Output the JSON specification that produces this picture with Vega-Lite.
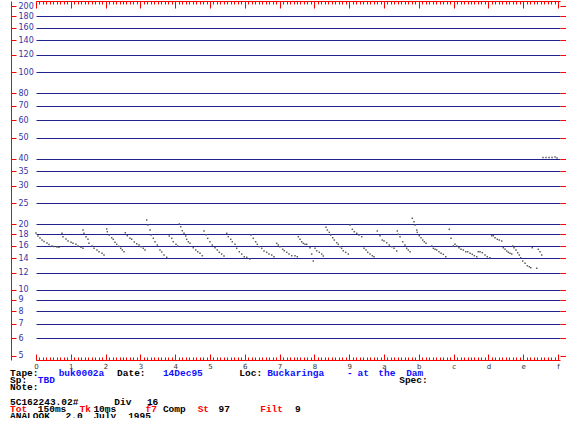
{
"$schema": "https://vega.github.io/schema/vega-lite/v6.json",
"width": 524, "height": 359,
"autosize": {"type": "none"},
"padding": {"left": 36, "top": 1, "right": 6, "bottom": 58},
"background": "white",
"config": {"view": {"stroke": null}},
"datasets": {
"calls": [
{"t":0,"f":18.26},{"t":0.057,"f":17.69},{"t":0.115,"f":17.32},{"t":0.172,"f":16.95},{"t":0.23,"f":16.69},{"t":0.316,"f":16.43},{"t":0.374,"f":16.17},{"t":0.46,"f":15.91},{"t":0.517,"f":15.83},{"t":0.603,"f":15.75},{"t":0.661,"f":15.7},
{"t":0.747,"f":18.2},{"t":0.776,"f":17.56},{"t":0.862,"f":17.13},{"t":0.92,"f":16.78},{"t":1.006,"f":16.55},{"t":1.063,"f":16.37},{"t":1.149,"f":16.2},{"t":1.207,"f":15.91},{"t":1.293,"f":15.7},{"t":1.351,"f":15.53},
{"t":1.351,"f":18.84},{"t":1.379,"f":18.2},{"t":1.437,"f":17.56},{"t":1.494,"f":17.08},{"t":1.523,"f":16.37},{"t":1.609,"f":15.91},{"t":1.667,"f":15.53},{"t":1.753,"f":15.26},{"t":1.81,"f":14.98},{"t":1.897,"f":14.73},{"t":1.954,"f":14.47},
{"t":2.032,"f":19.04},{"t":2.049,"f":18.51},{"t":2.106,"f":17.87},{"t":2.175,"f":17.37},{"t":2.221,"f":17.08},{"t":2.27,"f":16.55},{"t":2.319,"f":16.2},{"t":2.377,"f":15.86},{"t":2.434,"f":15.53},{"t":2.48,"f":15.26},{"t":2.529,"f":14.98},
{"t":2.566,"f":18.31},{"t":2.624,"f":17.74},{"t":2.701,"f":17.26},{"t":2.75,"f":17.08},{"t":2.825,"f":16.6},{"t":2.894,"f":16.3},{"t":2.96,"f":16.08},{"t":3.017,"f":15.8},{"t":3.083,"f":15.53},{"t":3.132,"f":15.26},
{"t":3.181,"f":20.94},{"t":3.218,"f":19.87},{"t":3.276,"f":18.84},{"t":3.305,"f":17.87},{"t":3.371,"f":17.26},{"t":3.42,"f":16.65},{"t":3.486,"f":16.08},{"t":3.563,"f":15.26},{"t":3.612,"f":14.94},{"t":3.678,"f":14.47},{"t":3.756,"f":14.12},
{"t":3.83,"f":17.69},{"t":3.899,"f":17.26},{"t":3.945,"f":16.65},{"t":4.023,"f":16.2},{"t":4.072,"f":15.91},
{"t":4.118,"f":20.08},{"t":4.158,"f":19.51},{"t":4.204,"f":18.71},{"t":4.253,"f":18.2},{"t":4.302,"f":17.69},{"t":4.33,"f":17.08},{"t":4.376,"f":16.65},{"t":4.425,"f":16.37},{"t":4.52,"f":15.63},{"t":4.589,"f":15.26},{"t":4.647,"f":14.98},{"t":4.713,"f":14.73},{"t":4.779,"f":14.36},
{"t":4.828,"f":18.65},{"t":4.885,"f":17.93},{"t":4.934,"f":17.26},{"t":5.0,"f":16.65},{"t":5.066,"f":16.08},{"t":5.144,"f":15.63},{"t":5.21,"f":15.26},{"t":5.267,"f":14.89},{"t":5.336,"f":14.62},{"t":5.402,"f":14.32},
{"t":5.48,"f":18.2},{"t":5.526,"f":17.56},{"t":5.595,"f":17.08},{"t":5.641,"f":16.65},{"t":5.718,"f":16.2},{"t":5.767,"f":15.53},{"t":5.842,"f":14.98},{"t":5.911,"f":14.62},{"t":5.986,"f":14.21},{"t":6.055,"f":14.12},{"t":6.149,"f":13.87},
{"t":6.178,"f":17.87},{"t":6.244,"f":17.26},{"t":6.313,"f":16.65},{"t":6.359,"f":16.2},{"t":6.417,"f":15.8},{"t":6.486,"f":15.53},{"t":6.552,"f":15.09},{"t":6.629,"f":14.89},{"t":6.695,"f":14.62},{"t":6.773,"f":14.47},{"t":6.839,"f":14.21},
{"t":6.917,"f":16.37},{"t":6.963,"f":16.08},{"t":7.011,"f":15.8},{"t":7.089,"f":15.37},{"t":7.135,"f":15.14},{"t":7.204,"f":14.89},{"t":7.27,"f":14.62},{"t":7.348,"f":14.36},{"t":7.443,"f":14.36},{"t":7.509,"f":14.21},
{"t":7.537,"f":17.56},{"t":7.586,"f":17.08},{"t":7.635,"f":16.65},{"t":7.681,"f":16.37},{"t":7.73,"f":16.2},{"t":7.779,"f":16.2},{"t":7.874,"f":15.63},{"t":7.922,"f":14.62},{"t":7.968,"f":13.58},
{"t":8.017,"f":15.53},{"t":8.066,"f":15.14},{"t":8.141,"f":14.89},{"t":8.21,"f":14.62},{"t":8.256,"f":14.32},
{"t":8.333,"f":19.39},{"t":8.371,"f":18.84},{"t":8.428,"f":18.39},{"t":8.468,"f":17.87},{"t":8.526,"f":17.37},{"t":8.572,"f":16.95},{"t":8.641,"f":16.48},{"t":8.687,"f":16.2},{"t":8.736,"f":15.8},{"t":8.784,"f":15.53},{"t":8.83,"f":15.14},{"t":8.899,"f":14.89},{"t":8.974,"f":14.62},
{"t":9.023,"f":19.87},{"t":9.089,"f":18.98},{"t":9.147,"f":18.51},{"t":9.216,"f":18.2},{"t":9.282,"f":17.87},{"t":9.359,"f":17.56},
{"t":9.425,"f":15.53},{"t":9.483,"f":15.26},{"t":9.532,"f":14.89},{"t":9.598,"f":14.62},{"t":9.664,"f":14.36},{"t":9.713,"f":14.21},
{"t":9.807,"f":18.65},{"t":9.885,"f":17.74},{"t":9.951,"f":16.95},{"t":10.0,"f":16.78},{"t":10.078,"f":16.48},{"t":10.152,"f":16.08},{"t":10.221,"f":15.8},{"t":10.287,"f":15.53},{"t":10.365,"f":15.09},
{"t":10.382,"f":18.65},{"t":10.411,"f":18.01},{"t":10.46,"f":17.56},{"t":10.537,"f":16.65},{"t":10.603,"f":16.08},{"t":10.652,"f":15.53},{"t":10.698,"f":15.26},{"t":10.747,"f":14.98},
{"t":10.813,"f":21.32},{"t":10.862,"f":20.57},{"t":10.891,"f":19.87},{"t":10.94,"f":18.84},{"t":10.957,"f":18.39},{"t":11.014,"f":17.74},{"t":11.063,"f":17.37},{"t":11.112,"f":16.95},{"t":11.158,"f":16.65},{"t":11.207,"f":16.37},{"t":11.371,"f":15.91},{"t":11.417,"f":15.53},{"t":11.466,"f":15.37},{"t":11.514,"f":15.26},{"t":11.58,"f":14.98},{"t":11.638,"f":14.73},{"t":11.704,"f":14.58},{"t":11.773,"f":14.21},
{"t":11.876,"f":18.98},{"t":11.925,"f":17.26},{"t":11.991,"f":15.91},{"t":12.04,"f":16.2},{"t":12.089,"f":15.91},{"t":12.155,"f":15.63},{"t":12.213,"f":15.37},{"t":12.279,"f":15.26},{"t":12.348,"f":14.98},{"t":12.405,"f":14.98},{"t":12.471,"f":14.73},{"t":12.537,"f":14.58},{"t":12.595,"f":14.36},{"t":12.664,"f":14.21},{"t":12.71,"f":14.98},{"t":12.759,"f":14.98},{"t":12.825,"f":14.83},{"t":12.902,"f":14.47},{"t":12.968,"f":14.21},{"t":13.046,"f":14.06},
{"t":13.095,"f":17.74},{"t":13.141,"f":17.74},{"t":13.19,"f":17.37},{"t":13.256,"f":17.08},{"t":13.313,"f":16.95},{"t":13.382,"f":16.78},
{"t":13.428,"f":15.63},{"t":13.477,"f":15.37},{"t":13.526,"f":15.09},{"t":13.572,"f":14.89},{"t":13.621,"f":14.73},{"t":13.67,"f":14.62},
{"t":13.698,"f":15.91},{"t":13.736,"f":15.63},{"t":13.793,"f":15.26},{"t":13.842,"f":14.83},{"t":13.888,"f":14.47},{"t":13.928,"f":14.06},{"t":13.986,"f":13.58},{"t":14.052,"f":13.26},{"t":14.118,"f":12.92},{"t":14.175,"f":12.79},{"t":14.216,"f":12.65},{"t":14.388,"f":12.58},
{"t":14.261,"f":15.63},{"t":14.434,"f":15.37},{"t":14.483,"f":14.98},{"t":14.532,"f":14.47},
{"t":14.569,"f":40.53},{"t":14.655,"f":40.53},{"t":14.741,"f":40.53},{"t":14.828,"f":40.53},{"t":14.914,"f":40.74},{"t":14.971,"f":40.31}
],
"info": [
{"line":1,"col":0,"kind":"label","text":"Tape:"},
{"line":1,"col":7,"kind":"value","text":"buk0002a"},
{"line":1,"col":15.4,"kind":"label","text":"Date:"},
{"line":1,"col":22,"kind":"value","text":"14Dec95"},
{"line":1,"col":33,"kind":"label","text":"Loc:"},
{"line":1,"col":37,"kind":"value","text":"Buckaringa"},
{"line":1,"col":48.5,"kind":"value","text":"-"},
{"line":1,"col":50,"kind":"value","text":"at"},
{"line":1,"col":53,"kind":"value","text":"the"},
{"line":1,"col":57,"kind":"value","text":"Dam"},
{"line":2,"col":0,"kind":"label","text":"Sp:"},
{"line":2,"col":4,"kind":"value","text":"TBD"},
{"line":2,"col":56,"kind":"label","text":"Spec:"},
{"line":3,"col":0,"kind":"label","text":"Note:"},
{"line":5,"col":0,"kind":"label","text":"5C162243.02#"},
{"line":5,"col":15,"kind":"label","text":"Div"},
{"line":5,"col":19.7,"kind":"label","text":"16"},
{"line":6,"col":0,"kind":"flag","text":"Tot"},
{"line":6,"col":4,"kind":"label","text":"150ms"},
{"line":6,"col":10,"kind":"flag","text":"Tk"},
{"line":6,"col":12,"kind":"label","text":"10ms"},
{"line":6,"col":19.5,"kind":"flag","text":"f7"},
{"line":6,"col":22,"kind":"label","text":"Comp"},
{"line":6,"col":27,"kind":"flag","text":"St"},
{"line":6,"col":30,"kind":"label","text":"97"},
{"line":6,"col":36,"kind":"flag","text":"Filt"},
{"line":6,"col":41,"kind":"label","text":"9"},
{"line":7,"col":0,"kind":"label","text":"ANALOOK"},
{"line":7,"col":8,"kind":"label","text":"2.0"},
{"line":7,"col":12,"kind":"label","text":"July"},
{"line":7,"col":17,"kind":"label","text":"1995"}
]
},
"resolve": {"scale": {"x": "independent", "y": "independent"}, "axis": {"x": "independent", "y": "independent"}},
"layer": [
{
"data": {"name": "calls"},
"transform": [{"filter": "datum.t < 3"}],
"mark": {"type": "square", "size": 2.2, "color": "#5a5a5a", "opacity": 1},
"encoding": {
"x": {"field": "t", "type": "quantitative", "scale": {"domain": [0, 15.057], "nice": false, "zero": false},
 "axis": {"orient": "bottom", "title": null, "labels": false, "grid": false, "domain": true, "domainColor": "#ff0000", "domainWidth": 1, "ticks": true, "tickColor": "#ff0000", "tickWidth": 1, "tickSize": -3,
 "values": [0,0.1,0.2,0.3,0.4,0.5,0.6,0.7,0.8,0.9,1,1.1,1.2,1.3,1.4,1.5,1.6,1.7,1.8,1.9,2,2.1,2.2,2.3,2.4,2.5,2.6,2.7,2.8,2.9,3,3.1,3.2,3.3,3.4,3.5,3.6,3.7,3.8,3.9,4,4.1,4.2,4.3,4.4,4.5,4.6,4.7,4.8,4.9,5,5.1,5.2,5.3,5.4,5.5,5.6,5.7,5.8,5.9,6,6.1,6.2,6.3,6.4,6.5,6.6,6.7,6.8,6.9,7,7.1,7.2,7.3,7.4,7.5,7.6,7.7,7.8,7.9,8,8.1,8.2,8.3,8.4,8.5,8.6,8.7,8.8,8.9,9,9.1,9.2,9.3,9.4,9.5,9.6,9.7,9.8,9.9,10,10.1,10.2,10.3,10.4,10.5,10.6,10.7,10.8,10.9,11,11.1,11.2,11.3,11.4,11.5,11.6,11.7,11.8,11.9,12,12.1,12.2,12.3,12.4,12.5,12.6,12.7,12.8,12.9,13,13.1,13.2,13.3,13.4,13.5,13.6,13.7,13.8,13.9,14,14.1,14.2,14.3,14.4,14.5,14.6,14.7,14.8,14.9,15]}},
"y": {"field": "f", "type": "quantitative", "scale": {"type": "log", "domain": [4.774, 211.7], "nice": false},
 "axis": {"orient": "right", "offset": -549, "title": null, "values": [5,6,7,8,9,10,12,14,16,18,20,25,30,35,40,50,60,70,80,100,120,140,160,180,200], "format": "d",
 "domain": true, "domainColor": "#ff0000", "domainWidth": 1, "ticks": true, "tickColor": "#ff0000", "tickSize": 5, "tickWidth": 1,
 "labels": true, "labelColor": "#3535a5", "labelFont": "DejaVu Sans", "labelFontSize": 8, "labelAlign": "left", "labelBaseline": "middle", "labelPadding": 2, "labelOverlap": false, "labelFlush": false, "labelBound": false, "grid": false}}
}
},
{
"data": {"name": "calls"},
"transform": [{"filter": "datum.t >= 3 && datum.t < 6"}],
"mark": {"type": "square", "size": 2.2, "color": "#5a5a5a", "opacity": 1},
"encoding": {
"x": {"field": "t", "type": "quantitative", "scale": {"domain": [0, 15.057], "nice": false, "zero": false},
 "axis": {"orient": "bottom", "title": null, "labels": false, "grid": false, "domain": false, "ticks": true, "tickColor": "#ff0000", "tickWidth": 1, "tickSize": -6, "values": [0,1,2,3,4,5,6,7,8,9,10,11,12,13,14,15]}},
"y": {"field": "f", "type": "quantitative", "scale": {"type": "log", "domain": [4.774, 211.7], "nice": false},
 "axis": {"orient": "right", "title": null, "values": [5,6,7,8,9,10,12,14,16,18,20,25,30,35,40,50,60,70,80,100,120,140,160,180,200], "domain": false, "ticks": true, "tickColor": "#ff0000", "tickSize": 6, "tickWidth": 1, "labels": false, "grid": false}}
}
},
{
"data": {"name": "calls"},
"transform": [{"filter": "datum.t >= 6 && datum.t < 9"}],
"mark": {"type": "square", "size": 2.2, "color": "#5a5a5a", "opacity": 1},
"encoding": {
"x": {"field": "t", "type": "quantitative", "scale": {"domain": [0, 15.057], "nice": false, "zero": false},
 "axis": {"orient": "bottom", "title": null, "ticks": false, "domain": false, "grid": false, "values": [0,1,2,3,4,5,6,7,8,9,10,11,12,13,14,15],
 "labelExpr": "substring('0123456789abcdef', datum.value, datum.value + 1)", "labelFont": "DejaVu Sans", "labelFontSize": 7, "labelColor": "#333333", "labelPadding": 2, "labelFlush": false, "labelOverlap": false, "labelBound": false}},
"y": {"field": "f", "type": "quantitative", "scale": {"type": "log", "domain": [4.774, 211.7], "nice": false},
 "axis": {"orient": "left", "title": null, "values": [6,7,8,9,10,12,14,16,18,20,25,30,35,40,50,60,70,80,100,120,140,160,180], "domain": false, "ticks": false, "labels": false, "grid": true, "gridColor": "#22228c", "gridWidth": 1, "gridOpacity": 1}}
}
},
{
"data": {"name": "calls"},
"transform": [{"filter": "datum.t >= 9 && datum.t < 12"}],
"mark": {"type": "square", "size": 2.2, "color": "#5a5a5a", "opacity": 1},
"encoding": {
"x": {"field": "t", "type": "quantitative", "scale": {"domain": [0, 15.057], "nice": false, "zero": false},
 "axis": {"orient": "top", "title": null, "labels": false, "grid": false, "domain": true, "domainColor": "#ff0000", "domainWidth": 1, "ticks": true, "tickColor": "#ff0000", "tickWidth": 1, "tickSize": -3,
 "values": [0,0.1,0.2,0.3,0.4,0.5,0.6,0.7,0.8,0.9,1,1.1,1.2,1.3,1.4,1.5,1.6,1.7,1.8,1.9,2,2.1,2.2,2.3,2.4,2.5,2.6,2.7,2.8,2.9,3,3.1,3.2,3.3,3.4,3.5,3.6,3.7,3.8,3.9,4,4.1,4.2,4.3,4.4,4.5,4.6,4.7,4.8,4.9,5,5.1,5.2,5.3,5.4,5.5,5.6,5.7,5.8,5.9,6,6.1,6.2,6.3,6.4,6.5,6.6,6.7,6.8,6.9,7,7.1,7.2,7.3,7.4,7.5,7.6,7.7,7.8,7.9,8,8.1,8.2,8.3,8.4,8.5,8.6,8.7,8.8,8.9,9,9.1,9.2,9.3,9.4,9.5,9.6,9.7,9.8,9.9,10,10.1,10.2,10.3,10.4,10.5,10.6,10.7,10.8,10.9,11,11.1,11.2,11.3,11.4,11.5,11.6,11.7,11.8,11.9,12,12.1,12.2,12.3,12.4,12.5,12.6,12.7,12.8,12.9,13,13.1,13.2,13.3,13.4,13.5,13.6,13.7,13.8,13.9,14,14.1,14.2,14.3,14.4,14.5,14.6,14.7,14.8,14.9,15]}},
"y": {"field": "f", "type": "quantitative", "scale": {"type": "log", "domain": [4.774, 211.7], "nice": false}, "axis": null}
}
},
{
"data": {"name": "calls"},
"transform": [{"filter": "datum.t >= 12"}],
"mark": {"type": "square", "size": 2.2, "color": "#5a5a5a", "opacity": 1},
"encoding": {
"x": {"field": "t", "type": "quantitative", "scale": {"domain": [0, 15.057], "nice": false, "zero": false},
 "axis": {"orient": "top", "title": null, "labels": false, "grid": false, "domain": false, "ticks": true, "tickColor": "#ff0000", "tickWidth": 1, "tickSize": -7, "values": [0,1,2,3,4,5,6,7,8,9,10,11,12,13,14,15]}},
"y": {"field": "f", "type": "quantitative", "scale": {"type": "log", "domain": [4.774, 211.7], "nice": false}, "axis": null}
}
},
{
"data": {"name": "info"},
"mark": {"type": "text", "align": "left", "baseline": "middle", "font": "Liberation Mono", "fontSize": 9.5, "fontWeight": "bold"},
"encoding": {
"x": {"field": "col", "type": "quantitative", "scale": {"domain": [3.741, 79.137], "nice": false, "zero": false}, "axis": null},
"y": {"field": "line", "type": "quantitative", "scale": {"domain": [-0.801, -50.455], "nice": false, "zero": false}, "axis": null},
"color": {"field": "kind", "type": "nominal", "scale": {"domain": ["label", "value", "flag"], "range": ["#000000", "#1010ff", "#ff0000"]}, "legend": null},
"text": {"field": "text", "type": "nominal"}
}
}
]
}
